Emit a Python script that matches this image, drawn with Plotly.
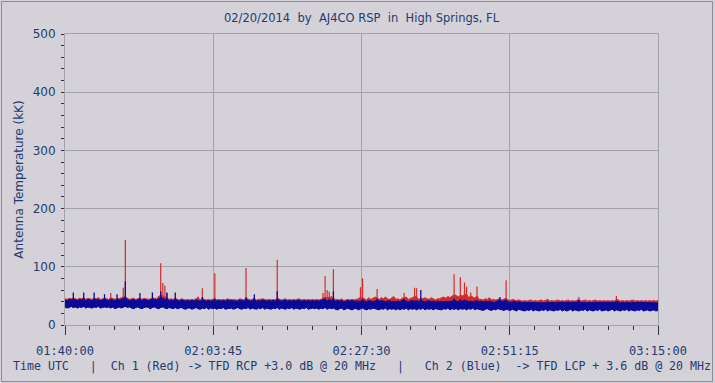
import pandas as pd
import plotly.graph_objects as go

# ---- data ----
# Each channel is dense noise: the per-20-second upper / lower edges of the
# noise band (kK) from 01:40:00 to 03:15:00, plus the narrow spikes above it.
start_time = "2014-02-20 01:40:00"
end_time = "2014-02-20 03:15:00"
sample_step = "20s"

ch1_red_high = [
    45, 44, 46, 45, 46, 45, 44, 46, 45, 47, 44, 46, 45, 44, 46, 45, 47, 44, 45, 46,
    45, 44, 47, 45, 44, 46, 45, 47, 48, 49, 46, 44, 45, 46, 44, 45, 46, 44, 46, 45,
    44, 45, 46, 46, 45, 48, 52, 50, 49, 47, 44, 45, 44, 46, 44, 43, 45, 44, 43, 44,
    43, 44, 43, 45, 47, 43, 46, 44, 43, 44, 43, 44, 46, 43, 44, 43, 44, 43, 45, 44,
    44, 43, 44, 43, 45, 44, 43, 46, 44, 43, 44, 46, 43, 44, 45, 45, 44, 43, 44, 43,
    44, 43, 46, 44, 43, 44, 45, 43, 44, 43, 44, 43, 45, 44, 43, 44, 43, 44, 43, 44,
    43, 44, 43, 44, 46, 48, 47, 48, 46, 47, 43, 44, 43, 45, 42, 43, 44, 43, 44, 43,
    44, 45, 48, 47, 45, 43, 47, 44, 46, 48, 47, 44, 47, 45, 48, 45, 44, 47, 49, 44,
    45, 43, 46, 47, 48, 44, 45, 47, 49, 48, 44, 46, 45, 47, 45, 44, 47, 45, 43, 45,
    45, 47, 48, 46, 49, 47, 50, 52, 51, 48, 51, 50, 52, 53, 47, 50, 48, 46, 50, 44,
    44, 43, 45, 44, 47, 43, 44, 43, 44, 45, 43, 44, 46, 43, 42, 44, 43, 42, 43, 42,
    41, 42, 41, 42, 43, 41, 42, 41, 42, 43, 41, 42, 44, 41, 42, 41, 42, 43, 41, 42,
    41, 42, 43, 41, 42, 41, 42, 44, 41, 42, 43, 41, 42, 41, 42, 43, 41, 42, 41, 42,
    41, 42, 41, 42, 41, 44, 43, 41, 42, 41, 42, 41, 42, 43, 41, 42, 41, 42, 41, 42,
    41, 42, 41, 42, 41, 42,
]

ch2_blue_high = [
    43, 42, 44, 43, 45, 43, 42, 44, 43, 46, 42, 44, 43, 42, 45, 43, 44, 42, 43, 45,
    43, 42, 44, 43, 42, 44, 43, 44, 45, 47, 44, 42, 43, 44, 42, 43, 45, 42, 44, 43,
    42, 43, 45, 44, 43, 45, 47, 46, 44, 45, 42, 43, 42, 44, 42, 41, 43, 42, 41, 42,
    41, 42, 41, 43, 42, 41, 43, 42, 41, 42, 41, 42, 44, 41, 42, 41, 42, 41, 43, 42,
    42, 41, 42, 41, 43, 42, 41, 44, 42, 41, 42, 44, 41, 42, 41, 43, 42, 41, 42, 41,
    42, 41, 44, 42, 41, 42, 43, 41, 42, 41, 42, 41, 43, 42, 41, 42, 41, 42, 41, 42,
    41, 42, 41, 42, 43, 45, 41, 44, 42, 44, 41, 42, 41, 42, 40, 41, 42, 41, 42, 41,
    41, 42, 41, 44, 41, 40, 42, 41, 40, 41, 43, 41, 42, 41, 40, 41, 42, 40, 41, 40,
    41, 40, 42, 44, 41, 40, 41, 42, 41, 42, 40, 43, 41, 40, 41, 42, 40, 41, 40, 41,
    40, 41, 40, 41, 40, 41, 40, 45, 41, 40, 44, 41, 43, 41, 40, 41, 40, 41, 42, 40,
    41, 40, 41, 40, 41, 40, 39, 40, 41, 43, 40, 41, 43, 40, 39, 40, 41, 39, 40, 39,
    39, 38, 39, 38, 39, 38, 38, 39, 39, 38, 39, 38, 40, 38, 39, 38, 38, 39, 39, 38,
    38, 39, 38, 39, 39, 38, 39, 42, 38, 39, 38, 38, 39, 38, 39, 39, 38, 38, 39, 38,
    39, 38, 39, 38, 39, 41, 39, 38, 39, 38, 39, 38, 38, 39, 38, 39, 39, 38, 38, 39,
    38, 39, 38, 39, 38, 38,
]

ch2_blue_low = [
    31, 29, 30, 32, 30, 31, 29, 31, 30, 32, 29, 31, 30, 29, 31, 30, 32, 29, 30, 31,
    30, 31, 29, 31, 28, 30, 31, 29, 31, 32, 30, 31, 29, 28, 30, 31, 29, 28, 30, 31,
    30, 28, 30, 31, 29, 28, 30, 31, 29, 28, 30, 29, 28, 30, 28, 29, 30, 28, 27, 29,
    29, 27, 29, 30, 28, 27, 29, 28, 30, 27, 29, 28, 29, 27, 29, 28, 30, 27, 28, 29,
    29, 27, 28, 30, 28, 27, 29, 28, 30, 27, 29, 28, 27, 29, 28, 30, 27, 29, 28, 27,
    29, 28, 30, 27, 29, 28, 27, 29, 28, 30, 27, 29, 28, 27, 29, 28, 30, 27, 28, 29,
    28, 29, 27, 29, 28, 30, 27, 29, 28, 29, 27, 26, 28, 29, 26, 28, 29, 27, 26, 28,
    28, 26, 28, 29, 27, 26, 28, 27, 29, 28, 27, 26, 28, 27, 29, 26, 28, 27, 28, 26,
    28, 26, 28, 27, 29, 26, 28, 27, 28, 26, 28, 27, 29, 26, 28, 27, 28, 26, 28, 27,
    27, 26, 28, 27, 29, 26, 28, 27, 28, 26, 28, 27, 28, 26, 28, 27, 29, 26, 28, 27,
    27, 25, 27, 28, 26, 25, 27, 26, 28, 27, 26, 25, 27, 26, 25, 27, 26, 24, 27, 26,
    26, 24, 26, 25, 27, 24, 26, 25, 24, 26, 25, 27, 24, 26, 25, 24, 26, 25, 27, 24,
    26, 24, 25, 27, 24, 26, 25, 24, 26, 25, 27, 24, 26, 25, 24, 26, 25, 27, 24, 25,
    26, 24, 25, 27, 24, 26, 25, 24, 26, 25, 27, 24, 26, 25, 24, 26, 25, 27, 24, 25,
    26, 24, 25, 26, 24, 25,
]

# narrow spikes (time UTC, peak kK)
ch1_red_spike_times = [
    "01:47:20", "01:49:20", "01:49:40", "01:55:00", "01:55:20", "01:55:40", "01:56:00",
    "01:56:20", "02:01:20", "02:02:00", "02:04:00", "02:09:00", "02:14:00", "02:21:20",
    "02:21:40", "02:22:00", "02:22:20", "02:22:40", "02:23:00", "02:27:20", "02:27:40",
    "02:30:00", "02:34:20", "02:36:00", "02:36:20", "02:42:20", "02:43:20", "02:44:00",
    "02:44:20", "02:45:00", "02:46:00", "02:50:40", "03:02:20", "03:08:20",
]
ch1_red_spike_values = [
    55, 64, 146, 50, 106, 72, 68,
    55, 49, 63, 89, 98, 112, 55,
    84, 60, 57, 50, 96, 65, 80,
    62, 55, 64, 63, 87, 82, 73,
    66, 56, 66, 77, 48, 50,
]
ch2_blue_spike_times = [
    "01:41:20", "01:43:00", "01:44:40", "01:46:20", "01:48:20", "01:49:40", "01:52:00",
    "01:54:00", "01:55:20", "01:56:20", "01:57:40", "02:02:00", "02:09:00", "02:10:20",
    "02:14:00", "02:23:00", "02:30:00", "02:37:00", "02:49:40", "03:02:20",
]
ch2_blue_spike_values = [
    56, 56, 56, 53, 53, 75, 55,
    56, 58, 56, 56, 48, 48, 53,
    58, 58, 45, 60, 48, 42,
]

x_tick_labels = ["01:40:00", "02:03:45", "02:27:30", "02:51:15", "03:15:00"]
y_tick_values = [0, 100, 200, 300, 400, 500]

title_text = "02/20/2014\u00a0\u00a0by\u00a0\u00a0AJ4CO RSP\u00a0\u00a0in\u00a0\u00a0High Springs, FL"
y_title = "Antenna Temperature (kK)"
bottom_text = ("Time UTC\u00a0\u00a0\u00a0|\u00a0\u00a0Ch 1 (Red) -> TFD RCP +3.0 dB @ 20 MHz"
               "\u00a0\u00a0\u00a0|\u00a0\u00a0\u00a0Ch 2 (Blue)\u00a0\u00a0-> TFD LCP + 3.6 dB @ 20 MHz")

# ---- figure ----
DAY = "2014-02-20 "
times = pd.date_range(start_time, end_time, freq=sample_step)
tick_times = [pd.Timestamp(DAY + t) for t in x_tick_labels]


def spike_path(spike_times, spike_values):
    """Vertical segments from the band's lower edge up to each spike peak."""
    xs, ys = [], []
    for t, v in zip(spike_times, spike_values):
        ts = pd.Timestamp(DAY + t)
        k = times.get_indexer([ts], method="nearest")[0]
        xs += [ts, ts, None]
        ys += [ch2_blue_low[k], v, None]
    return xs, ys


BG = "#d4d2d8"
TXT = "#1f3b70"
GRID = "#a3a2a8"
RED = "#d42a2a"
BLUE = "#0a0a9a"

W, H = 715, 383
ML, MR, MT, MB = 65, 57, 34, 58

fig = go.Figure()
# Ch 1 (red): spikes, then the band from the lower noise edge to its upper edge
rx, ry = spike_path(ch1_red_spike_times, ch1_red_spike_values)
fig.add_trace(go.Scatter(x=rx, y=ry, mode="lines", line=dict(color=RED, width=1.2),
                         hoverinfo="skip"))
fig.add_trace(go.Scatter(x=times, y=ch2_blue_low, mode="lines",
                         line=dict(width=0, color=RED), hoverinfo="skip"))
fig.add_trace(go.Scatter(x=times, y=ch1_red_high, mode="lines", fill="tonexty",
                         fillcolor=RED, line=dict(color=RED, width=1), hoverinfo="skip"))
# Ch 2 (blue) drawn on top
bx, by = spike_path(ch2_blue_spike_times, ch2_blue_spike_values)
fig.add_trace(go.Scatter(x=bx, y=by, mode="lines", line=dict(color=BLUE, width=1.3),
                         hoverinfo="skip"))
fig.add_trace(go.Scatter(x=times, y=ch2_blue_low, mode="lines",
                         line=dict(width=1, color=BLUE), hoverinfo="skip"))
fig.add_trace(go.Scatter(x=times, y=ch2_blue_high, mode="lines", fill="tonexty",
                         fillcolor=BLUE, line=dict(color=BLUE, width=1), hoverinfo="skip"))

fig.update_layout(
    width=W, height=H,
    margin=dict(l=ML, r=MR, t=MT, b=MB, pad=0),
    paper_bgcolor=BG, plot_bgcolor=BG,
    showlegend=False,
    title=dict(text=title_text, x=(ML + (W - ML - MR) / 2) / W, xanchor="center",
               y=1 - 18 / H, yanchor="middle", yref="container",
               font=dict(family="DejaVu Sans", size=11.5, color=TXT)),
    font=dict(family="DejaVu Sans", color=TXT),
)

fig.update_xaxes(
    type="date",
    range=[tick_times[0], tick_times[-1]],
    tickvals=tick_times, ticktext=x_tick_labels,
    tickfont=dict(family="DejaVu Sans Mono", size=12, color=TXT),
    ticks="outside", ticklen=9, tickcolor="#303040", tickwidth=1,
    ticklabelstandoff=6,
    minor=dict(ticks="outside", ticklen=4, tickcolor="#303040",
               dtick=237500, tick0=tick_times[0], showgrid=False),
    showgrid=True, gridcolor=GRID, gridwidth=1,
    showline=True, linecolor=GRID, linewidth=1, mirror=True,
    zeroline=False,
)

fig.update_yaxes(
    range=[0, 500],
    tickvals=y_tick_values,
    tickfont=dict(family="DejaVu Sans", size=12, color=TXT),
    ticks="outside", ticklen=3, tickcolor="#303040",
    ticklabelstandoff=3,
    minor=dict(ticks="outside", ticklen=3, tickcolor="#303040", dtick=20, showgrid=False),
    showgrid=True, gridcolor=GRID, gridwidth=1,
    showline=True, linecolor=GRID, linewidth=1, mirror=True,
    zeroline=False,
    title=dict(text=y_title, standoff=6,
               font=dict(family="DejaVu Sans", size=12, color=TXT)),
)

# bottom caption
fig.add_annotation(text=bottom_text, xref="paper", yref="paper",
                   x=(11 - ML) / (W - ML - MR), y=-(366 - (H - MB)) / (H - MT - MB),
                   xanchor="left", yanchor="middle", showarrow=False,
                   font=dict(family="DejaVu Sans Mono", size=11.6, color=TXT))

# outer frame
pw, ph = W - ML - MR, H - MT - MB
fig.add_shape(type="rect", xref="paper", yref="paper",
              x0=(1.5 - ML) / pw, x1=(W - 2.5 - ML) / pw,
              y0=-(H - 1.5 - (H - MB)) / ph, y1=1 + (MT - 1.5) / ph,
              line=dict(color="#8c8b90", width=1), layer="below")

fig.write_html(
    "out.html",
    config={"displayModeBar": False},
    post_script="document.body.style.margin='0';document.body.style.overflow='hidden';"
                "document.body.style.background='" + BG + "';",
)
